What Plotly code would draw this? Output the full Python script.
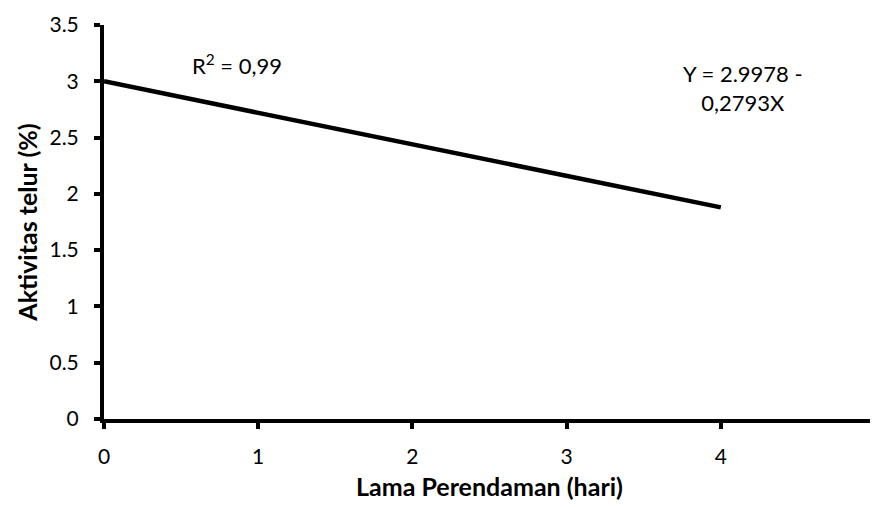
import plotly.graph_objects as go

# Data
lama_perendaman = [0, 4]
aktivitas_telur = [3.0, 1.88]

x_ticks = [0, 1, 2, 3, 4, 5]
y_ticks = [0, 0.5, 1, 1.5, 2, 2.5, 3, 3.5]
y_tick_labels = ["0", "0.5", "1", "1.5", "2", "2.5", "3", "3.5"]

r2_text = "R<sup>2</sup> = 0,99"
eq_text = "Y = 2.9978 -<br>0,2793X"

FONT = "Lato, Carlito, Calibri, sans-serif"

fig = go.Figure()
fig.add_trace(go.Scatter(
    x=lama_perendaman, y=aktivitas_telur, mode="lines",
    line=dict(color="black", width=4.5), showlegend=False, hoverinfo="skip",
))

# The page body adds an 8px margin, so the figure is 8px smaller than the window
fig.update_layout(
    width=870, height=499,
    margin=dict(l=96, r=3, t=16.5, b=88, autoexpand=False),
    paper_bgcolor="white", plot_bgcolor="white",
    font=dict(family=FONT, size=21, color="black"),
    xaxis=dict(
        range=[0, 5], tickvals=x_ticks, showgrid=False, zeroline=False,
        showline=True, linecolor="black", linewidth=4,
        ticks="outside", ticklen=6, tickwidth=4, tickcolor="black",
        ticklabelstandoff=10, automargin=False, ticklabeloverflow="allow",
        title=dict(text="<b>Lama Perendaman (hari)</b>", standoff=12, font=dict(size=25)),
        tickfont=dict(size=21),
    ),
    yaxis=dict(
        range=[0, 3.5], tickvals=y_ticks, ticktext=y_tick_labels,
        showgrid=False, zeroline=False,
        showline=True, linecolor="black", linewidth=4,
        ticks="outside", ticklen=6, tickwidth=4, tickcolor="black",
        ticklabelstandoff=11, automargin=False,
        title=dict(text="<b>Aktivitas telur (%)</b>", standoff=6, font=dict(size=25)),
        tickfont=dict(size=21),
    ),
    annotations=[
        dict(x=0.557, y=3.15, xref="x", yref="y", text=r2_text, showarrow=False,
             xanchor="left", yanchor="middle", font=dict(size=22)),
        dict(x=4.145, y=2.94, xref="x", yref="y", text=eq_text, showarrow=False,
             xanchor="center", yanchor="middle", align="center", font=dict(size=22)),
    ],
)

fig.write_html("out.html")
